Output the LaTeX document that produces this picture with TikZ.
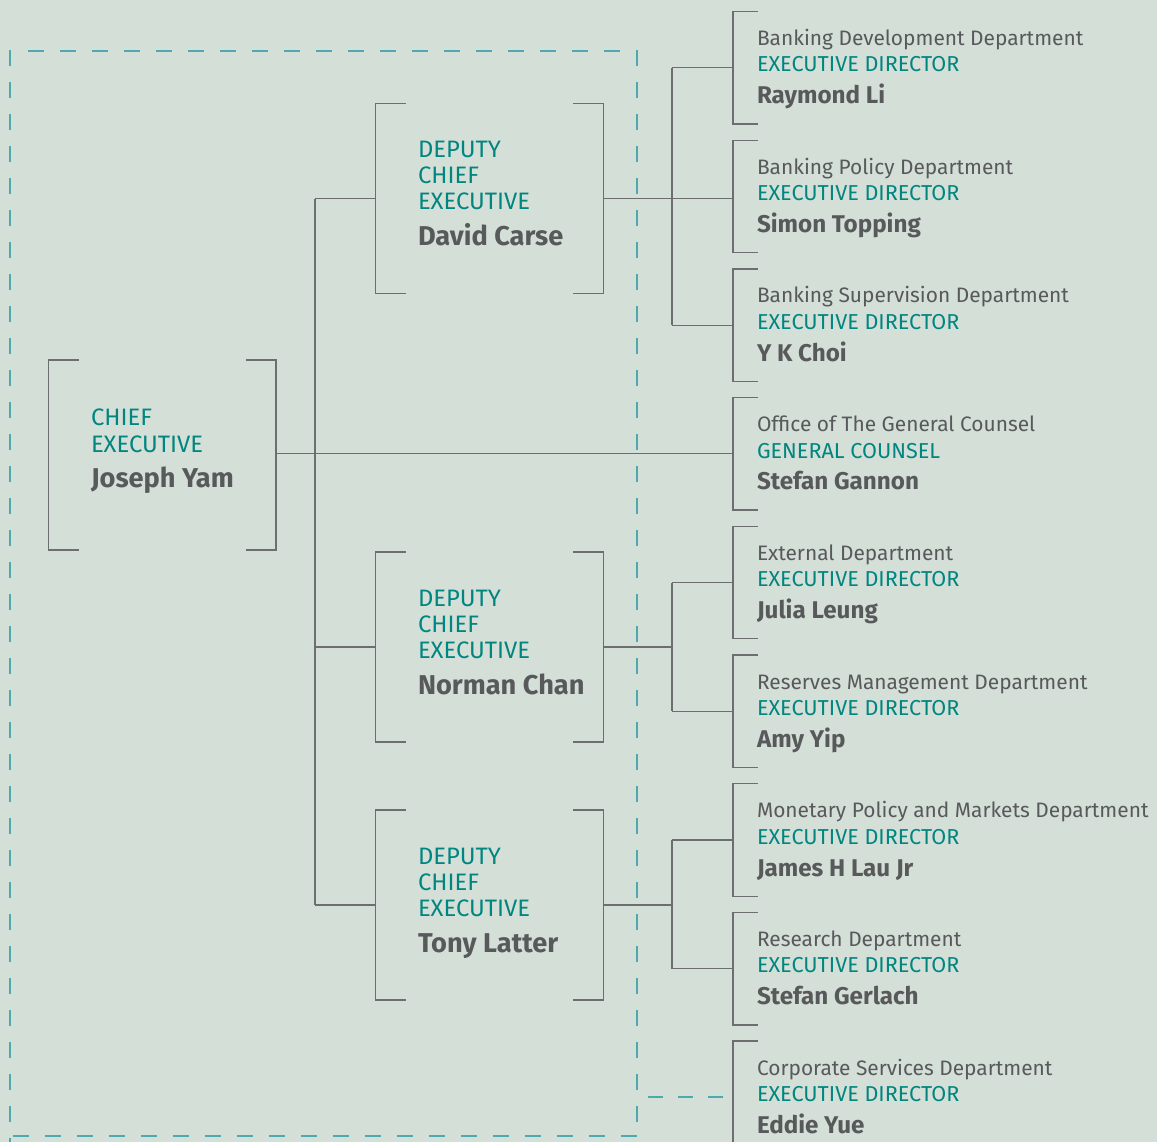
\documentclass[tikz,border=0pt]{standalone}
\usepackage{fontspec}
\setmainfont{Fira Sans}
\usetikzlibrary{calc}
\definecolor{bgc}{HTML}{D4DFD8}
\definecolor{tealtxt}{HTML}{00857F}
\definecolor{graytxt}{HTML}{58595B}
\definecolor{linegray}{HTML}{6D6E70}
\definecolor{dashteal}{HTML}{4CAAAF}
\tikzset{
  conn/.style={draw=linegray, line width=1.3pt},
  brk/.style={draw=linegray, line width=1.3pt},
  dashline/.style={draw=dashteal, line width=2pt, dash pattern=on 16pt off 16pt},
  boxarea/.style={rectangle, inner sep=0pt, outer sep=0pt},
  txt/.style={anchor=base west, inner sep=0pt, outer sep=0pt},
  toprole/.style={txt, text=tealtxt, font=\fontsize{23.8}{23.8}\selectfont},
  topname/.style={txt, text=graytxt, font=\fontsize{27.2}{27.2}\selectfont\bfseries},
  deptname/.style={txt, text=graytxt, font=\fontsize{20.9}{20.9}\selectfont},
  deptrole/.style={txt, text=tealtxt, font=\fontsize{21.6}{21.6}\selectfont},
  deptperson/.style={txt, text=graytxt, font=\fontsize{24.2}{24.2}\selectfont\bfseries},
}
\newcommand\twobrk[1]{%
  \draw[brk] ([xshift=30pt]#1.north west) -- (#1.north west) -- (#1.south west) -- ([xshift=30pt]#1.south west);
  \draw[brk] ([xshift=-30pt]#1.north east) -- (#1.north east) -- (#1.south east) -- ([xshift=-30pt]#1.south east);}
\newcommand\deptbox[5]{%
  \node[boxarea, anchor=north west, minimum width=420pt, minimum height=112.5pt] (#1) at (733,#2) {};
  \draw[brk] ([xshift=25pt]#1.north west) -- (#1.north west) -- (#1.south west) -- ([xshift=25pt]#1.south west);
  \node[deptname] (#1-a) at ($(#1.north west)+(24,34)$) {#3};
  \node[deptrole] (#1-b) at ($(#1.north west)+(24,60.5)$) {#4};
  \node[deptperson] (#1-c) at ($(#1.north west)+(24,92.3)$) {#5};}
\newcommand\deputy[3]{%
  \node[boxarea, anchor=north west, minimum width=227.6pt, minimum height=190pt] (#1) at (375.7,#2) {};
  \twobrk{#1}
  \node[toprole] (#1-a) at ($(#1.north west)+(42.3,54)$) {DEPUTY};
  \node[toprole] (#1-b) at ($(#1.north west)+(42.3,80.3)$) {CHIEF};
  \node[toprole] (#1-c) at ($(#1.north west)+(42.3,106.3)$) {EXECUTIVE};
  \node[topname] (#1-d) at ($(#1.north west)+(42.3,142)$) {#3};}
\begin{document}
\begin{tikzpicture}[x=1pt,y=-1pt]
\fill[bgc] (0,0) rectangle (1157,1142);
\useasboundingbox (0,0) rectangle (1157,1142);
% dashed frame
\draw[dashline] (10,50) -- (10,1142);
\draw[dashline] (28,51) -- (636,51);
\draw[dashline] (637,50) -- (637,1136);
\draw[dashline] (13,1136) -- (637,1136);
% chief executive
\node[boxarea, anchor=north west, minimum width=227.3pt, minimum height=190pt] (ce) at (48.7,360) {};
\twobrk{ce}
\node[toprole] (ce-a) at (91,425.7) {CHIEF};
\node[toprole] (ce-b) at (91,452.7) {EXECUTIVE};
\node[topname] (ce-c) at (91,487.7) {Joseph Yam};
% deputies
\deputy{dc}{103.7}{David Carse}
\deputy{nc}{552}{Norman Chan}
\deputy{tl}{810}{Tony Latter}
% departments
\deptbox{bd}{11.5}{Banking Development Department}{EXECUTIVE DIRECTOR}{Raymond Li}
\deptbox{bp}{140.2}{Banking Policy Department}{EXECUTIVE DIRECTOR}{Simon Topping}
\deptbox{bs}{268.9}{Banking Supervision Department}{EXECUTIVE DIRECTOR}{Y K Choi}
\deptbox{gc}{397.6}{Office of The General Counsel}{GENERAL COUNSEL}{Stefan Gannon}
\deptbox{ed}{526.3}{External Department}{EXECUTIVE DIRECTOR}{Julia Leung}
\deptbox{rm}{655.0}{Reserves Management Department}{EXECUTIVE DIRECTOR}{Amy Yip}
\deptbox{mp}{783.7}{Monetary Policy and Markets Department}{EXECUTIVE DIRECTOR}{James H Lau Jr}
\deptbox{rd}{912.4}{Research Department}{EXECUTIVE DIRECTOR}{Stefan Gerlach}
\deptbox{cs}{1041.1}{Corporate Services Department}{EXECUTIVE DIRECTOR}{Eddie Yue}
% connectors
\coordinate (trunk) at (315,0);
\coordinate (fork) at (672,0);
\coordinate (dsh) at (648,0);
\draw[conn] ([yshift=1.7pt]ce.east) -- ([yshift=1.7pt]ce.east -| gc.west);
\draw[conn] (trunk |- dc.west) -- (trunk |- tl.west);
\draw[conn] (trunk |- dc.west) -- (dc.west);
\draw[conn] (trunk |- nc.west) -- (nc.west);
\draw[conn] (trunk |- tl.west) -- (tl.west);
\draw[conn] (dc.east) -- (dc.east -| bp.west);
\draw[conn] (fork |- bd.west) -- (fork |- bs.west);
\draw[conn] (fork |- bd.west) -- (bd.west);
\draw[conn] (fork |- bs.west) -- (bs.west);
\draw[conn] (nc.east) -- (fork |- nc.east);
\draw[conn] (fork |- ed.west) -- (fork |- rm.west);
\draw[conn] (fork |- ed.west) -- (ed.west);
\draw[conn] (fork |- rm.west) -- (rm.west);
\draw[conn] (tl.east) -- (fork |- tl.east);
\draw[conn] (fork |- mp.west) -- (fork |- rd.west);
\draw[conn] (fork |- mp.west) -- (mp.west);
\draw[conn] (fork |- rd.west) -- (rd.west);
\draw[dashline, dash pattern=on 15pt off 15pt] (dsh |- cs.west) -- (cs.west);
\end{tikzpicture}
\end{document}
